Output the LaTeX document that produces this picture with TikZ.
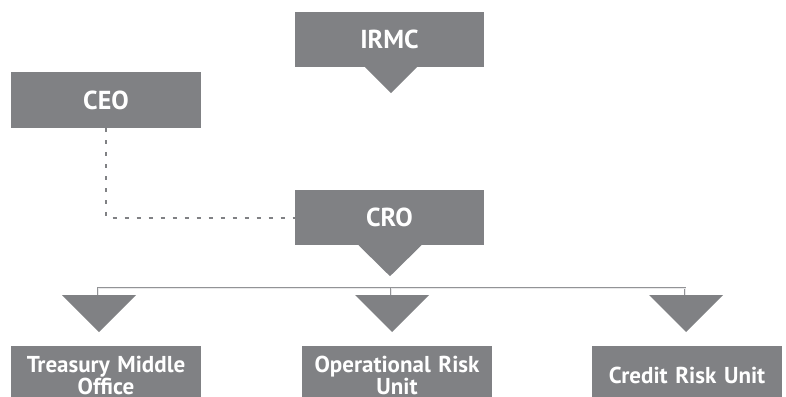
\documentclass[tikz,border=0pt]{standalone}
\usepackage{fontspec}
\setmainfont{PT Sans}
\usetikzlibrary{calc,positioning}

\definecolor{boxgray}{RGB}{128,129,132}
\definecolor{linegray}{RGB}{146,147,150}

\tikzset{
  box/.style={fill=boxgray, text=white, font=\bfseries\fontsize{26}{30}\selectfont,
    minimum width=189pt, minimum height=55pt, inner sep=0pt},
  unit/.style={fill=boxgray, text=white, font=\bfseries\fontsize{23}{22}\selectfont,
    text width=190pt, align=center, anchor=north, inner xsep=0pt, inner ysep=10pt,
    text height=16pt, text depth=40pt},
  tip/.style={fill=boxgray},
  bus/.style={draw=linegray, double=white!80!linegray, double distance=0.9pt, line width=0.8pt},
  link/.style={draw=boxgray, line width=2pt, dash pattern=on 4pt off 8pt},
}

\begin{document}
\begin{tikzpicture}[x=1pt,y=-1pt]
  \useasboundingbox (0,0) rectangle (786,396);

  \pgfmathsetmacro{\busY}{288}

  % boards and officers
  \node[box] (irmc) at (389.5,39.5) {IRMC};
  \node[box, minimum width=190pt, minimum height=56pt] (ceo) at (106,100) {CEO};
  \node[box] (cro) at (389.5,217.5) {CRO};

  % units under the CRO
  \node[unit] (tmo) at (106,346) {Treasury Middle\\Office};
  \node[unit] (oru) at (397,346) {Operational Risk\\Unit};
  \node[unit, text height=27pt] (cru) at (687,346) {Credit Risk Unit};

  \fill[tip] ($(irmc.south)+(-24.5,0)$) -- ++(52,0) -- ++(-26,26) -- cycle;
  \fill[tip] ($(cro.south)+(-31,0)$) -- ++(63,0) -- ++(-31.5,31) -- cycle;

  \draw[link] (ceo.south) |- (cro.west);

  % bus with drops to the units
  \coordinate (drop1) at (98,\busY);
  \coordinate (drop2) at (391,\busY);
  \coordinate (drop3) at (685,\busY);
  \draw[bus] ($(drop1)+(0,7)$) -- (drop1) -- (drop3) -- ++(0,7);
  \draw[bus] (drop2) -- ++(0,7);

  \foreach \d in {drop1,drop2,drop3}
    \fill[tip] ($(\d)+(-36,7)$) -- ++(74,0) -- ++(-37,37) -- cycle;
\end{tikzpicture}
\end{document}
